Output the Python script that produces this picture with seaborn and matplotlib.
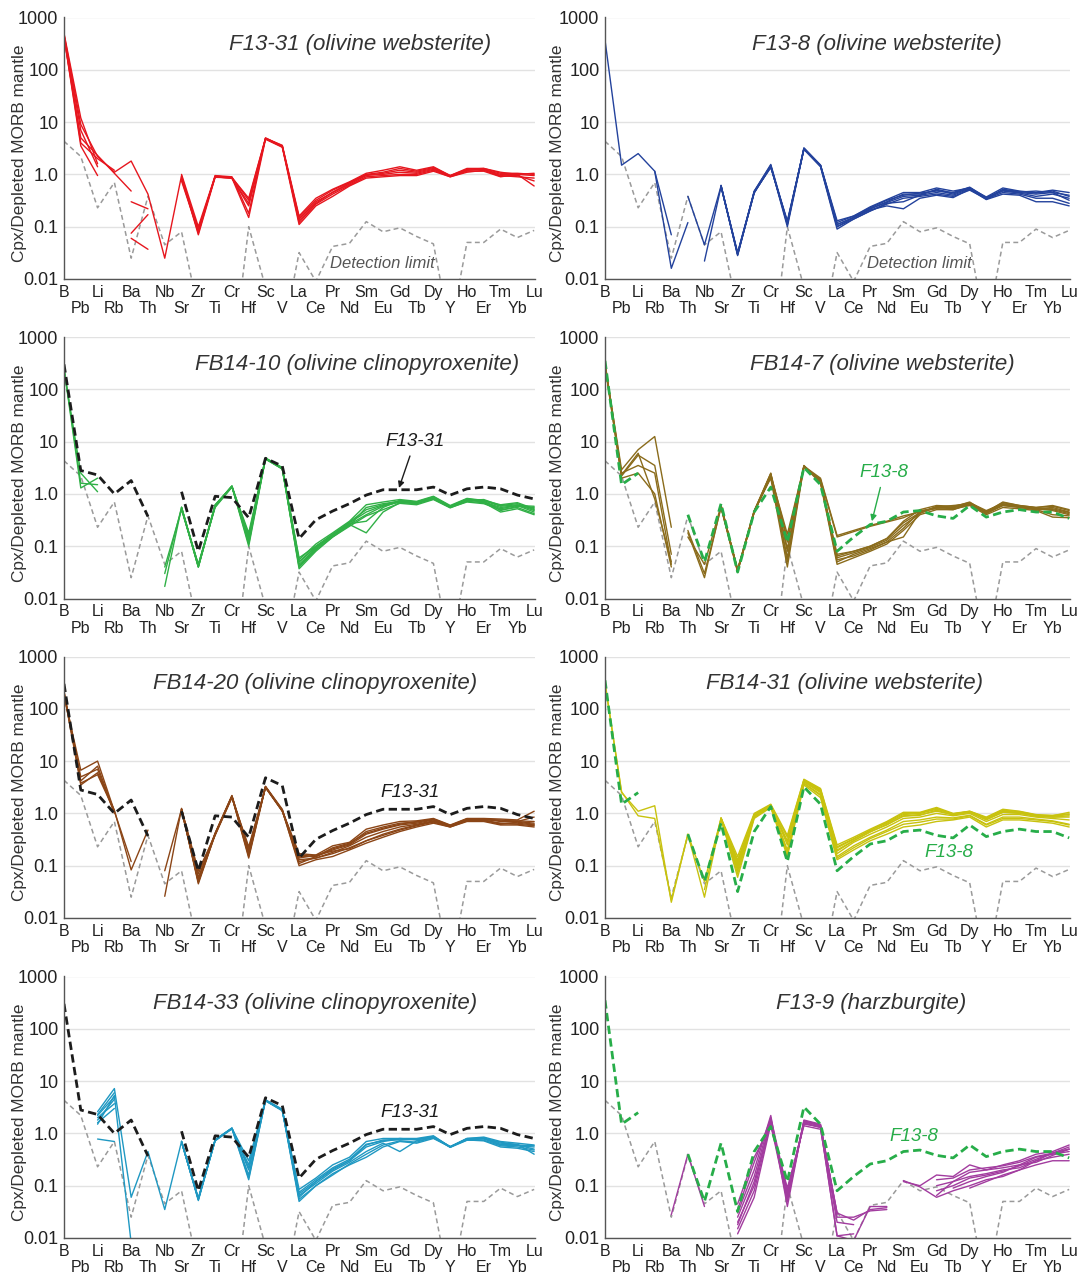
import numpy as np
import pandas as pd
import matplotlib
matplotlib.use("Agg")
import matplotlib.pyplot as plt
import seaborn as sns
from matplotlib.ticker import LogLocator, NullFormatter

N = None

ELEMENTS = ["B", "Pb", "Li", "Rb", "Ba", "Th", "Nb", "Sr", "Zr", "Ti", "Cr", "Hf", "Sc", "V",
            "La", "Ce", "Pr", "Nd", "Sm", "Eu", "Gd", "Tb", "Dy", "Y", "Ho", "Er", "Tm", "Yb", "Lu"]

Y_TICKS = [0.01, 0.1, 1.0, 10, 100, 1000]
Y_TICK_LABELS = ["0.01", "0.1", "1.0", "10", "100", "1000"]

# LA-ICP-MS detection limit (normalised), values below 0.01 fall off the plot
DETECTION_LIMIT = [4.3, 2.2, 0.23, 0.7, 0.025, 0.38, 0.045, 0.08, 0.0025, 0.0002, 0.0002, 0.1, 0.007, 0.0007,
                   0.032, 0.009, 0.042, 0.048, 0.125, 0.08, 0.095, 0.065, 0.047, 0.001, 0.05, 0.05, 0.09, 0.062, 0.085]

# Reference profiles
REF_F13_31 = [300, 2.8, 2.3, 1.0, 1.8, 0.37, N, 1.1, 0.08, 0.9, 0.85, 0.35, 4.8, 3.4,
              0.14, 0.32, 0.47, 0.65, 0.95, 1.2, 1.2, 1.2, 1.35, 0.95, 1.25, 1.35, 1.25, 0.95, 0.8]
REF_F13_8 = [350, 1.5, 2.5, N, N, 0.4, 0.05, 0.65, 0.032, 0.45, 1.35, 0.12, 3.2, 1.5,
             0.08, 0.15, 0.26, 0.3, 0.45, 0.48, 0.38, 0.34, 0.6, 0.36, 0.45, 0.5, 0.45, 0.45, 0.34]

# Clinopyroxene analyses, one row per spot
F13_31 = [
    [480, 9.0, 2.2, 1.1, 1.8, 0.42, 0.025, 0.95, 0.075, 0.92, 0.88, 0.32, 4.9, 3.5, 0.14, 0.30, 0.45, 0.65, 0.95, 1.05, 1.20, 1.10, 1.30, 0.92, 1.20, 1.25, 1.00, 1.00, 0.95],
    [420, 5.0, 2.3, 1.05, 0.48, N, N, 0.85, 0.09, 0.90, 0.85, 0.25, 4.8, 3.4, 0.15, 0.32, 0.50, 0.70, 1.00, 1.10, 1.30, 1.15, 1.35, 0.95, 1.25, 1.30, 1.05, 1.05, 1.00],
    [430, 3.5, 0.95, N, 0.30, 0.22, N, 0.75, 0.08, 0.95, 0.90, 0.18, 5.0, 3.5, 0.12, 0.27, 0.42, 0.62, 0.90, 0.95, 1.00, 1.00, 1.20, 0.90, 1.10, 1.20, 0.92, 0.95, 0.75],
    [460, 7.0, 1.4, N, 0.075, 0.17, N, 0.90, 0.07, 0.88, 0.86, 0.15, 4.7, 3.3, 0.11, 0.25, 0.38, 0.60, 0.85, 0.90, 0.95, 0.95, 1.15, 0.90, 1.15, 1.15, 0.90, 1.00, 0.60],
    [500, 12.0, 1.6, N, 0.06, 0.037, N, 1.00, 0.10, 0.93, 0.87, 0.35, 4.9, 3.6, 0.16, 0.35, 0.52, 0.72, 1.05, 1.20, 1.40, 1.20, 1.40, 0.95, 1.30, 1.30, 1.10, 1.00, 1.05],
    [440, 4.0, 2.0, 1.2, N, N, N, 0.80, 0.085, 0.90, 0.84, 0.28, 4.8, 3.4, 0.13, 0.28, 0.46, 0.68, 0.98, 1.00, 1.10, 1.05, 1.25, 0.93, 1.20, 1.25, 0.95, 0.90, 0.85],
]

F13_8 = [
    [370, 1.5, 2.5, 1.15, 0.07, N, N, 0.60, 0.030, 0.45, 1.40, 0.12, 3.1, 1.45, 0.10, 0.15, 0.22, 0.30, 0.42, 0.42, 0.50, 0.42, 0.55, 0.35, 0.50, 0.45, 0.42, 0.45, 0.32],
    [N, N, N, 1.15, 0.016, 0.12, N, 0.62, 0.028, 0.48, 1.50, 0.11, 3.2, 1.50, 0.12, 0.16, 0.24, 0.33, 0.45, 0.45, 0.55, 0.48, 0.55, 0.37, 0.55, 0.48, 0.45, 0.50, 0.45],
    [N, N, N, N, N, 0.38, 0.045, 0.60, 0.032, 0.46, 1.35, 0.13, 3.0, 1.40, 0.09, 0.14, 0.20, 0.27, 0.35, 0.38, 0.42, 0.38, 0.50, 0.34, 0.45, 0.42, 0.35, 0.35, 0.28],
    [N, N, N, N, N, N, 0.022, 0.58, 0.030, 0.44, 1.45, 0.10, 3.1, 1.50, 0.11, 0.15, 0.21, 0.25, 0.22, 0.35, 0.40, 0.36, 0.52, 0.33, 0.42, 0.40, 0.30, 0.30, 0.25],
    [N, N, N, N, N, N, N, 0.60, 0.031, 0.47, 1.55, 0.12, 3.2, 1.50, 0.13, 0.16, 0.23, 0.32, 0.40, 0.44, 0.48, 0.45, 0.57, 0.36, 0.50, 0.46, 0.48, 0.45, 0.40],
    [N, N, N, N, N, N, N, 0.61, 0.029, 0.45, 1.40, 0.12, 3.05, 1.45, 0.10, 0.14, 0.20, 0.28, 0.30, 0.40, 0.45, 0.40, 0.53, 0.35, 0.48, 0.44, 0.38, 0.42, 0.35],
    [N, N, N, N, N, N, N, 0.59, 0.030, 0.46, 1.45, 0.11, 3.1, 1.48, 0.11, 0.15, 0.22, 0.29, 0.38, 0.40, 0.52, 0.44, 0.56, 0.34, 0.52, 0.47, 0.44, 0.48, 0.38],
]

FB14_10 = [
    [250, 1.3, 2.0, N, N, N, 0.017, 0.55, 0.040, 0.60, 1.40, 0.10, 4.7, 3.1, 0.037, 0.080, 0.15, 0.25, 0.55, 0.65, 0.72, 0.68, 0.85, 0.57, 0.80, 0.70, 0.55, 0.60, 0.45],
    [230, 2.5, 1.1, N, N, N, 0.040, 0.50, 0.045, 0.55, 1.35, 0.18, 4.8, 3.2, 0.050, 0.100, 0.17, 0.27, 0.30, 0.55, 0.75, 0.70, 0.88, 0.58, 0.75, 0.78, 0.60, 0.65, 0.50],
    [260, 1.6, 1.5, N, N, N, 0.030, 0.55, 0.042, 0.62, 1.40, 0.14, 4.6, 3.0, 0.060, 0.100, 0.16, 0.26, 0.18, 0.45, 0.68, 0.65, 0.80, 0.55, 0.70, 0.65, 0.50, 0.55, 0.42],
    [N, N, N, N, N, N, N, 0.52, 0.040, 0.58, 1.38, 0.12, 4.7, 3.0, 0.045, 0.090, 0.16, 0.28, 0.45, 0.60, 0.70, 0.68, 0.82, 0.56, 0.78, 0.72, 0.48, 0.58, 0.55],
    [N, N, N, N, N, N, N, 0.56, 0.043, 0.60, 1.42, 0.16, 4.9, 3.1, 0.055, 0.110, 0.18, 0.30, 0.62, 0.70, 0.78, 0.72, 0.90, 0.60, 0.82, 0.75, 0.62, 0.68, 0.52],
    [N, N, N, N, N, N, N, 0.54, 0.041, 0.57, 1.36, 0.13, 4.8, 3.0, 0.040, 0.085, 0.15, 0.24, 0.38, 0.50, 0.66, 0.62, 0.78, 0.54, 0.72, 0.68, 0.45, 0.52, 0.40],
    [N, N, N, N, N, N, N, 0.53, 0.044, 0.59, 1.40, 0.15, 4.7, 3.1, 0.050, 0.095, 0.17, 0.29, 0.50, 0.62, 0.74, 0.70, 0.86, 0.58, 0.80, 0.74, 0.58, 0.62, 0.48],
    [N, N, N, N, N, N, N, 0.55, 0.040, 0.61, 1.40, 0.11, 4.8, 3.1, 0.042, 0.090, 0.16, 0.26, 0.40, 0.58, 0.70, 0.66, 0.84, 0.56, 0.76, 0.70, 0.52, 0.60, 0.58],
]

FB14_7 = [
    [300, 2.9, 7.0, 12.5, 0.23, N, N, 0.60, 0.035, 0.47, 2.50, 0.05, 3.4, 2.0, 0.16, 0.20, 0.25, 0.30, 0.38, 0.45, 0.55, 0.55, 0.65, 0.45, 0.70, 0.60, 0.55, 0.60, 0.50],
    [280, 2.2, 5.5, 3.5, 0.07, N, N, 0.55, 0.033, 0.45, 2.20, 0.17, 3.3, 1.8, 0.07, 0.08, 0.10, 0.14, 0.30, 0.50, 0.60, 0.58, 0.68, 0.48, 0.65, 0.58, 0.52, 0.55, 0.45],
    [320, 2.5, 3.5, 2.5, 0.045, N, N, 0.58, 0.036, 0.48, 2.00, 0.04, 3.4, 1.6, 0.045, 0.06, 0.08, 0.11, 0.20, 0.40, 0.50, 0.50, 0.62, 0.42, 0.60, 0.55, 0.50, 0.40, 0.38],
    [290, 2.0, 2.5, 1.0, 0.04, N, N, 0.60, 0.034, 0.46, 2.40, 0.12, 3.5, 1.7, 0.05, 0.07, 0.09, 0.12, 0.15, 0.45, 0.55, 0.52, 0.60, 0.40, 0.55, 0.52, 0.48, 0.36, 0.35],
    [310, 2.3, 6.0, 0.8, 0.05, N, N, 0.57, 0.035, 0.44, 2.30, 0.08, 3.3, 1.9, 0.15, 0.19, 0.24, 0.29, 0.35, 0.48, 0.52, 0.50, 0.66, 0.46, 0.68, 0.60, 0.55, 0.58, 0.48],
    [N, N, N, N, N, 0.20, 0.030, 0.55, 0.032, 0.46, 2.10, 0.06, 3.4, 1.75, 0.06, 0.075, 0.095, 0.13, 0.25, 0.42, 0.58, 0.56, 0.70, 0.44, 0.60, 0.56, 0.50, 0.50, 0.42],
    [N, N, N, N, N, 0.15, 0.045, 0.60, 0.034, 0.47, 2.45, 0.14, 3.3, 1.8, 0.055, 0.065, 0.085, 0.12, 0.22, 0.46, 0.56, 0.60, 0.64, 0.43, 0.62, 0.57, 0.52, 0.52, 0.44],
    [N, N, N, N, N, 0.18, 0.025, 0.58, 0.035, 0.45, 2.30, 0.09, 3.4, 1.7, 0.065, 0.080, 0.10, 0.14, 0.28, 0.44, 0.54, 0.54, 0.66, 0.45, 0.64, 0.58, 0.54, 0.48, 0.40],
]

FB14_20 = [
    [200, 3.5, 6.0, 1.15, 0.083, 0.48, N, 1.20, 0.045, 0.40, 2.10, 0.14, 3.2, 1.15, 0.10, 0.13, 0.15, 0.20, 0.27, 0.35, 0.45, 0.55, 0.65, 0.55, 0.70, 0.70, 0.60, 0.60, 0.55],
    [180, 6.7, 10.0, 1.10, 0.12, N, N, 1.15, 0.050, 0.42, 2.20, 0.16, 3.3, 1.20, 0.12, 0.14, 0.17, 0.22, 0.30, 0.40, 0.50, 0.60, 0.70, 0.58, 0.75, 0.72, 0.65, 0.65, 0.60],
    [210, 5.0, 7.0, 1.0, N, N, 0.026, 1.25, 0.060, 0.40, 2.10, 0.20, 3.2, 1.10, 0.15, 0.15, 0.20, 0.25, 0.40, 0.50, 0.60, 0.65, 0.75, 0.57, 0.78, 0.78, 0.70, 0.70, 0.65],
    [190, 4.2, 8.0, 1.05, N, N, 0.080, 1.20, 0.080, 0.38, 2.00, 0.23, 3.1, 1.10, 0.17, 0.16, 0.24, 0.28, 0.50, 0.60, 0.70, 0.72, 0.80, 0.60, 0.80, 0.80, 0.78, 0.75, 1.10],
    [220, 3.8, 5.5, 1.1, N, N, N, 1.18, 0.055, 0.41, 2.15, 0.18, 3.2, 1.15, 0.13, 0.14, 0.18, 0.24, 0.35, 0.45, 0.55, 0.62, 0.72, 0.56, 0.74, 0.75, 0.62, 0.68, 0.62],
    [N, N, N, N, N, N, N, 1.22, 0.050, 0.40, 2.10, 0.15, 3.2, 1.12, 0.11, 0.15, 0.21, 0.26, 0.45, 0.55, 0.65, 0.68, 0.78, 0.59, 0.77, 0.76, 0.72, 0.72, 0.70],
    [N, N, N, N, N, N, N, 1.20, 0.048, 0.39, 2.05, 0.17, 3.25, 1.13, 0.14, 0.16, 0.19, 0.21, 0.30, 0.38, 0.48, 0.58, 0.68, 0.55, 0.72, 0.74, 0.64, 0.62, 0.58],
    [N, N, N, N, N, N, N, 1.19, 0.070, 0.41, 2.15, 0.21, 3.15, 1.15, 0.16, 0.15, 0.22, 0.27, 0.42, 0.52, 0.62, 0.70, 0.76, 0.58, 0.79, 0.77, 0.75, 0.70, 0.85],
]

FB14_31 = [
    [300, 2.5, 1.1, 1.4, 0.02, 0.40, 0.05, 0.80, 0.08, 0.90, 1.40, 0.20, 4.0, 2.5, 0.17, 0.28, 0.40, 0.55, 0.80, 0.85, 1.00, 0.90, 1.00, 0.70, 0.95, 0.95, 0.85, 0.80, 0.75],
    [320, 2.6, 0.9, 0.8, 0.022, 0.40, 0.025, 0.78, 0.10, 0.85, 1.35, 0.30, 4.2, 2.8, 0.20, 0.30, 0.45, 0.60, 0.90, 0.95, 1.10, 0.95, 1.05, 0.75, 1.05, 1.00, 0.90, 0.85, 0.85],
    [N, N, N, N, N, N, 0.035, 0.82, 0.15, 1.00, 1.50, 0.38, 4.5, 3.0, 0.25, 0.35, 0.50, 0.70, 1.05, 1.05, 1.30, 1.00, 1.10, 0.85, 1.20, 1.10, 0.95, 0.90, 1.05],
    [N, N, N, N, N, N, N, 0.80, 0.06, 0.80, 1.30, 0.15, 3.5, 2.0, 0.13, 0.20, 0.30, 0.40, 0.55, 0.60, 0.70, 0.75, 0.85, 0.55, 0.75, 0.75, 0.70, 0.65, 0.55],
    [N, N, N, N, N, N, N, 0.79, 0.12, 0.95, 1.45, 0.25, 4.3, 2.7, 0.22, 0.32, 0.48, 0.65, 0.95, 1.00, 1.20, 0.98, 1.08, 0.80, 1.10, 1.05, 0.92, 0.88, 0.95],
    [N, N, N, N, N, N, N, 0.81, 0.09, 0.88, 1.38, 0.18, 3.8, 2.3, 0.15, 0.24, 0.35, 0.48, 0.70, 0.75, 0.85, 0.82, 0.92, 0.62, 0.85, 0.85, 0.78, 0.72, 0.62],
    [N, N, N, N, N, N, N, 0.80, 0.13, 0.92, 1.42, 0.35, 4.4, 2.9, 0.23, 0.33, 0.47, 0.68, 1.00, 1.02, 1.25, 0.97, 1.10, 0.82, 1.15, 1.08, 0.93, 0.92, 0.98],
    [N, N, N, N, N, N, N, 0.78, 0.07, 0.84, 1.33, 0.17, 3.7, 2.2, 0.14, 0.22, 0.33, 0.45, 0.62, 0.68, 0.78, 0.78, 0.90, 0.60, 0.80, 0.80, 0.75, 0.70, 0.60],
    [N, N, N, N, N, N, N, 0.82, 0.11, 0.93, 1.45, 0.28, 4.1, 2.6, 0.19, 0.30, 0.44, 0.62, 0.88, 0.92, 1.15, 0.93, 1.05, 0.78, 1.05, 1.02, 0.88, 0.85, 0.90],
]

FB14_33 = [
    [N, N, 2.6, 7.2, 0.06, 0.45, 0.035, 0.70, 0.055, 0.75, 1.25, 0.30, 4.3, 2.8, 0.085, 0.14, 0.25, 0.35, 0.70, 0.80, 0.80, 0.80, 0.90, 0.55, 0.80, 0.85, 0.70, 0.65, 0.60],
    [N, N, 1.5, 5.3, 0.008, N, N, 0.68, 0.058, 0.72, 1.22, 0.25, 4.2, 2.7, 0.070, 0.12, 0.20, 0.30, 0.60, 0.75, 0.75, 0.78, 0.85, 0.55, 0.78, 0.80, 0.62, 0.60, 0.50],
    [N, N, 2.0, 3.7, N, N, N, 0.70, 0.052, 0.74, 1.25, 0.13, 4.3, 2.8, 0.055, 0.10, 0.17, 0.25, 0.35, 0.55, 0.70, 0.65, 0.80, 0.55, 0.75, 0.72, 0.55, 0.52, 0.45],
    [N, N, 2.3, 6.0, N, N, N, 0.69, 0.056, 0.76, 1.27, 0.20, 4.4, 2.9, 0.065, 0.11, 0.19, 0.28, 0.45, 0.65, 0.45, 0.72, 0.82, 0.56, 0.76, 0.78, 0.60, 0.58, 0.55],
    [N, N, 1.8, 4.5, N, N, N, 0.71, 0.054, 0.75, 1.24, 0.16, 4.2, 2.8, 0.060, 0.12, 0.21, 0.30, 0.55, 0.70, 0.78, 0.75, 0.88, 0.55, 0.79, 0.82, 0.65, 0.62, 0.40],
    [N, N, 0.78, 0.70, N, N, N, N, N, N, N, N, N, N, N, N, N, N, N, N, N, N, N, N, N, N, N, N, N],
    [N, N, 2.2, 5.0, N, N, N, 0.70, 0.055, 0.74, 1.26, 0.22, 4.3, 2.75, 0.075, 0.13, 0.22, 0.32, 0.62, 0.72, 0.80, 0.76, 0.86, 0.56, 0.80, 0.80, 0.68, 0.60, 0.58],
    [N, N, 1.6, 3.0, N, N, N, 0.68, 0.057, 0.73, 1.23, 0.14, 4.25, 2.8, 0.050, 0.10, 0.16, 0.26, 0.40, 0.60, 0.72, 0.68, 0.84, 0.54, 0.74, 0.74, 0.58, 0.55, 0.48],
]

F13_9 = [
    [N, N, N, N, 0.028, 0.40, 0.040, N, N, N, N, N, N, N, N, N, N, N, N, N, N, N, N, N, N, N, N, N, N],
    [N, N, N, N, N, N, N, N, 0.012, 0.06, 1.50, 0.050, 1.70, 1.40, 0.030, 0.022, 0.035, 0.038, N, N, 0.065, 0.12, 0.18, 0.20, 0.22, 0.25, 0.35, 0.40, 0.45],
    [N, N, N, N, N, N, N, N, 0.020, 0.10, 1.80, 0.070, 1.60, 1.30, 0.011, 0.009, 0.040, 0.040, N, N, 0.10, 0.12, 0.15, 0.17, 0.20, 0.22, 0.30, 0.35, 0.40],
    [N, N, N, N, N, N, N, N, 0.030, 0.20, 2.20, 0.040, 1.80, 1.50, 0.025, 0.025, 0.033, 0.035, N, N, N, 0.09, 0.12, 0.15, 0.18, 0.25, 0.28, 0.38, 0.50],
    [N, N, N, N, N, N, N, N, 0.045, 0.35, 1.40, 0.090, 1.40, 1.20, 0.020, 0.018, N, N, 0.125, 0.095, 0.060, 0.08, 0.10, 0.13, 0.15, 0.20, 0.25, 0.30, 0.30],
    [N, N, N, N, N, N, N, N, 0.015, 0.08, 1.60, 0.060, 1.75, 1.45, 0.028, N, N, N, 0.12, 0.10, 0.16, 0.15, 0.25, 0.20, 0.25, 0.30, 0.40, 0.45, 0.60],
    [N, N, N, N, N, N, N, N, 0.025, 0.15, 2.00, 0.080, 1.50, 1.35, 0.011, 0.012, N, N, N, N, 0.08, 0.10, 0.14, 0.16, 0.19, 0.24, 0.32, 0.42, 0.50],
    [N, N, N, N, N, N, N, N, 0.035, 0.28, 1.90, 0.055, 1.65, 1.40, 0.030, N, N, N, N, N, N, N, 0.09, 0.12, 0.16, 0.20, 0.30, 0.42, 0.55],
    [N, N, N, N, N, N, N, N, 0.018, 0.12, 1.70, 0.060, 1.55, 1.30, N, N, N, N, N, N, 0.13, 0.14, 0.20, 0.22, 0.24, 0.28, 0.36, 0.42, 0.50],
]

for _rows in (F13_31, F13_8, FB14_10, FB14_7, FB14_20, FB14_31, FB14_33, F13_9, [DETECTION_LIMIT, REF_F13_31, REF_F13_8]):
    assert all(len(r) == len(ELEMENTS) for r in _rows)


def to_long(rows):
    """Long-form table; every unbroken run of values gets its own unit id."""
    recs, seg = [], 0
    for r in rows:
        prev = False
        for i, v in enumerate(r):
            if v is None:
                prev = False
                continue
            if not prev:
                seg += 1
            recs.append((i, float(v), seg))
            prev = True
    return pd.DataFrame(recs, columns=["x", "y", "seg"])


sns.set_theme(style="white")
plt.rcParams["font.family"] = ["Liberation Sans", "DejaVu Sans"]

BLACK_REF = "#1c1c1c"
GREEN_REF = "#27ad49"

PANELS = [
    dict(rows=F13_31, color="#e6161e", title="F13-31 (olivine websterite)", tx=0.628, dl_label=True),
    dict(rows=F13_8, color="#23429c", title="F13-8 (olivine websterite)", tx=0.585, dl_label=True),
    dict(rows=FB14_10, color="#30b046", title="FB14-10 (olivine clinopyroxenite)", tx=0.622,
         ref=REF_F13_31, ref_color=BLACK_REF, ref_label="F13-31", lx=0.745, ly=0.60, arrow=(19.95, 1.3)),
    dict(rows=FB14_7, color="#8a6b1b", title="FB14-7 (olivine websterite)", tx=0.596,
         ref=REF_F13_8, ref_color=GREEN_REF, ref_label="F13-8", lx=0.60, ly=0.48, arrow=(16.1, 0.3)),
    dict(rows=FB14_20, color="#8b4516", title="FB14-20 (olivine clinopyroxenite)", tx=0.533,
         ref=REF_F13_31, ref_color=BLACK_REF, ref_label="F13-31", lx=0.735, ly=0.48),
    dict(rows=FB14_31, color="#c8c20e", title="FB14-31 (olivine websterite)", tx=0.514,
         ref=REF_F13_8, ref_color=GREEN_REF, ref_label="F13-8", lx=0.74, ly=0.25),
    dict(rows=FB14_33, color="#1f98c2", title="FB14-33 (olivine clinopyroxenite)", tx=0.533,
         ref=REF_F13_31, ref_color=BLACK_REF, ref_label="F13-31", lx=0.735, ly=0.48),
    dict(rows=F13_9, color="#a23c9f", title="F13-9 (harzburgite)", tx=0.572,
         ref=REF_F13_8, ref_color=GREEN_REF, ref_label="F13-8", lx=0.665, ly=0.39),
]

W, H = 1086, 1275
fig = plt.figure(figsize=(W / 100, H / 100), dpi=100)

col_x = [(64, 471), (605, 465)]
row_bottom = [279, 598.5, 918, 1238]
ax_h = 261.5

upper_pos = list(range(0, len(ELEMENTS), 2))
lower_pos = list(range(1, len(ELEMENTS), 2))
dl_df = to_long([DETECTION_LIMIT])

for k, p in enumerate(PANELS):
    r, c = divmod(k, 2)
    x0, w = col_x[c]
    ax = fig.add_axes([x0 / W, 1 - row_bottom[r] / H, w / W, ax_h / H])
    ax.set_yscale("log")

    sns.lineplot(data=dl_df, x="x", y="y", units="seg", estimator=None, color="#9a9a9a",
                 lw=1.1, linestyle=(0, (3.2, 2.2)), legend=False, ax=ax)
    sns.lineplot(data=to_long(p["rows"]), x="x", y="y", units="seg", estimator=None,
                 color=p["color"], lw=1.0, legend=False, ax=ax)
    if "ref" in p:
        sns.lineplot(data=to_long([p["ref"]]), x="x", y="y", units="seg", estimator=None,
                     color=p["ref_color"], lw=2.0, linestyle=(0, (3.0, 1.6)), legend=False, ax=ax)
        if "arrow" in p:
            ax.annotate(p["ref_label"], xy=p["arrow"], xycoords="data",
                        xytext=(p["lx"], p["ly"]), textcoords="axes fraction",
                        ha="center", va="center", fontsize=13.5, style="italic",
                        color=p["ref_color"],
                        arrowprops=dict(arrowstyle="-|>", color=p["ref_color"], lw=1.0,
                                        mutation_scale=9, shrinkA=2, shrinkB=0))
        else:
            ax.text(p["lx"], p["ly"], p["ref_label"], transform=ax.transAxes, ha="center",
                    va="center", fontsize=13.5, style="italic", color=p["ref_color"])

    if p.get("dl_label"):
        ax.text(0.676, 0.058, "Detection limit", transform=ax.transAxes, ha="center",
                va="center", fontsize=12, style="italic", color="#555555")

    ax.text(p["tx"], 0.895, p["title"], transform=ax.transAxes, ha="center", va="center",
            fontsize=16, style="italic", color="#333333")

    ax.set_xlim(0, 28.05)
    ax.set_ylim(0.01, 1000)
    # element names alternate between two label rows
    ax.set_xticks(upper_pos)
    ax.set_xticklabels([ELEMENTS[i] for i in upper_pos])
    ax.set_xticks(lower_pos, minor=True)
    ax.set_xticklabels([ELEMENTS[i] for i in lower_pos], minor=True)
    ax.set_yticks(Y_TICKS)
    ax.set_yticklabels(Y_TICK_LABELS)
    ax.yaxis.set_minor_locator(LogLocator(base=10, subs=np.arange(2, 10)))
    ax.yaxis.set_minor_formatter(NullFormatter())

    ax.tick_params(axis="x", which="major", direction="inout", length=5, width=0.8,
                   color="#555555", labelsize=11.5, labelcolor="#222222", pad=1.5)
    ax.tick_params(axis="x", which="minor", direction="inout", length=5, width=0.8,
                   color="#555555", labelsize=11.5, labelcolor="#222222", pad=13.5)
    ax.tick_params(axis="y", which="major", direction="inout", length=5, width=0.8,
                   color="#555555", labelsize=13, labelcolor="#222222", pad=1.5)
    ax.tick_params(axis="y", which="minor", direction="inout", length=2.5, width=0.6, color="#777777")

    ax.yaxis.grid(True, which="major", color="#e2e2e2", lw=1.0)
    ax.xaxis.grid(False)
    ax.set_axisbelow(True)
    for side in ("top", "right"):
        ax.spines[side].set_visible(False)
    for side in ("left", "bottom"):
        ax.spines[side].set_color("#555555")
        ax.spines[side].set_linewidth(1.0)

    ax.set_xlabel("")
    ax.set_ylabel("Cpx/Depleted MORB mantle", fontsize=12.4, color="#333333")
    ax.yaxis.set_label_coords(-37 / w if c == 0 else -40 / w, 0.48)

fig.savefig("out.png", dpi=100)
